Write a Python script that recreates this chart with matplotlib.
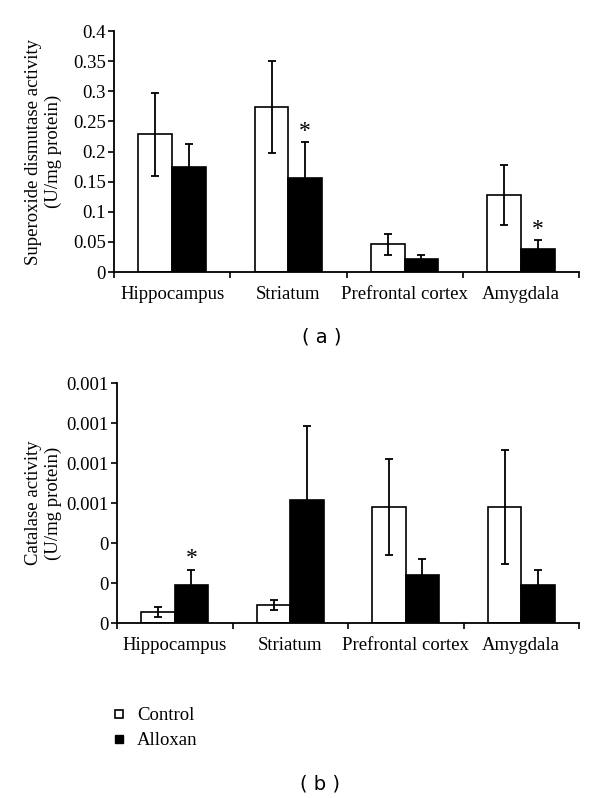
import numpy as np
import matplotlib.pyplot as plt
from matplotlib.ticker import FuncFormatter

plt.rcParams['font.family'] = ['Liberation Serif', 'DejaVu Serif']

regions = ["Hippocampus", "Striatum", "Prefrontal cortex", "Amygdala"]

# superoxide dismutase (U/mg protein)
sod_control = [0.229, 0.274, 0.046, 0.128]
sod_control_err = [0.069, 0.077, 0.018, 0.050]
sod_alloxan = [0.174, 0.156, 0.022, 0.038]
sod_alloxan_err = [0.038, 0.060, 0.007, 0.015]
sod_signif = [False, True, False, True]

# catalase (U/mg protein)
cat_control = [0.000055, 0.00009, 0.00058, 0.00058]
cat_control_err = [0.000025, 0.000025, 0.00024, 0.000285]
cat_alloxan = [0.00019, 0.000615, 0.00024, 0.00019]
cat_alloxan_err = [0.000075, 0.00037, 0.00008, 0.000075]
cat_signif = [True, False, False, False]

fig = plt.figure(figsize=(6, 7.98), dpi=100)
ax1 = fig.add_axes([0.19, 0.659, 0.775, 0.302])
ax2 = fig.add_axes([0.195, 0.219, 0.77, 0.301])

w = 0.29
x = np.arange(len(regions)) + 0.5


def panel(ax, ctrl, ctrl_err, allx, allx_err, signif, ymax, step, ylabel, star_off, lpad):
    ax.bar(x - w / 2, ctrl, w, color='white', edgecolor='black', linewidth=1.2,
           yerr=ctrl_err, capsize=3, error_kw=dict(elinewidth=1.3, capthick=1.3), zorder=2)
    ax.bar(x + w / 2, allx, w, color='black', edgecolor='black', linewidth=1.2,
           yerr=allx_err, capsize=3, error_kw=dict(elinewidth=1.3, capthick=1.3), zorder=2)
    for i in range(len(regions)):
        if signif[i]:
            ax.text(x[i] + w / 2, allx[i] + allx_err[i] + star_off, '*',
                    ha='center', va='center', fontsize=17)
    ax.set_xlim(0, len(regions))
    ax.set_ylim(0, ymax)
    ax.set_yticks(np.arange(0, ymax + step / 2, step))
    ax.set_xticks(np.arange(0, len(regions) + 1))
    ax.set_xticklabels([])
    ax.set_xticks(x, minor=True)
    ax.set_xticklabels(regions, minor=True)
    ax.tick_params(axis='x', which='major', direction='out', length=4, width=1.2)
    ax.tick_params(axis='x', which='minor', length=0, pad=10, labelsize=13.5)
    ax.tick_params(axis='y', direction='out', length=4, width=1.2, labelsize=13.5, pad=2)
    for s in ['top', 'right']:
        ax.spines[s].set_visible(False)
    for s in ['left', 'bottom']:
        ax.spines[s].set_linewidth(1.3)
    ax.set_ylabel(ylabel, fontsize=13.5, linespacing=1.2, labelpad=lpad)


panel(ax1, sod_control, sod_control_err, sod_alloxan, sod_alloxan_err, sod_signif,
      0.4, 0.05, "Superoxide dismutase activity\n(U/mg protein)", 0.017, 8)
ax1.yaxis.set_major_formatter(FuncFormatter(lambda v, p: '%g' % round(v, 2)))

panel(ax2, cat_control, cat_control_err, cat_alloxan, cat_alloxan_err, cat_signif,
      0.0012, 0.0002, "Catalase activity\n(U/mg protein)", 0.00006, 3)
ax2.yaxis.set_major_formatter(FuncFormatter(lambda v, p: '%g' % round(v, 3)))

fig.text(0.537, 0.578, '( a )', ha='center', va='center', fontsize=14, family='DejaVu Sans')
fig.text(0.533, 0.018, '( b )', ha='center', va='center', fontsize=14, family='DejaVu Sans')

fig.legend(handles=[
    plt.Line2D([], [], marker='s', color='black', markerfacecolor='white', linestyle='none',
               markersize=6, markeredgewidth=1.2, label='Control'),
    plt.Line2D([], [], marker='s', color='black', markerfacecolor='black', linestyle='none',
               markersize=6, label='Alloxan')],
    loc='upper left', bbox_to_anchor=(0.155, 0.135), frameon=False, fontsize=13.5,
    handletextpad=0.45, labelspacing=0.42, handlelength=1.0)

fig.savefig('out.png', dpi=100)
